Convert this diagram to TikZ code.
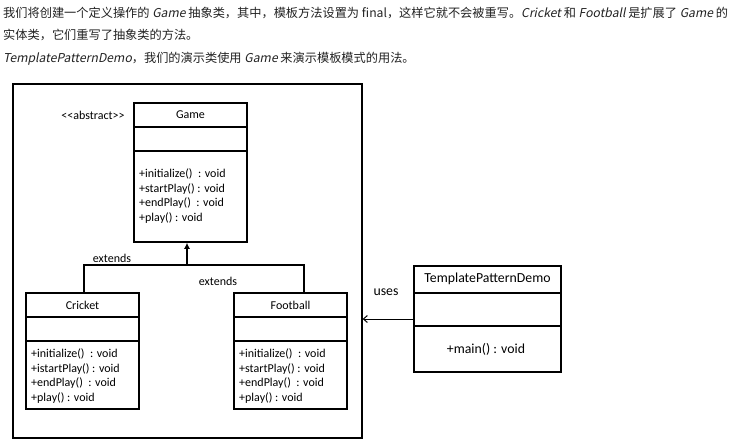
\documentclass[tikz,border=0pt]{standalone}
\usepackage{fontspec}
\usetikzlibrary{arrows.meta}
\newfontfamily\hdr{Noto Sans CJK SC}[AutoFakeSlant=0.2]
\newfontfamily\uml{Carlito}
\definecolor{txt}{HTML}{222222}
\tikzset{
  x=1pt, y=-1pt,
  classbox/.style={draw, line width=1.5pt, rectangle, inner sep=0pt},
  divider/.style={line width=1.3pt},
  cname/.style={font=\uml\fontsize{12}{14}\selectfont, inner sep=0pt},
  bigname/.style={font=\uml\fontsize{13.8}{16}\selectfont, inner sep=0pt},
  members/.style={font=\uml\fontsize{12}{14.7}\selectfont, align=left, inner sep=0pt, anchor=west},
  note/.style={font=\uml\fontsize{12}{14}\selectfont, inner sep=0pt},
  para/.style={font=\hdr\fontsize{12.2}{14}\selectfont, text=txt, anchor=west, inner sep=0pt},
  gen/.style={line width=1.5pt, -{Latex[length=6pt,width=6pt]}},
  dep/.style={line width=1pt, -{Straight Barb[length=4pt,width=7pt]}},
}
\begin{document}
\begin{tikzpicture}
\useasboundingbox (0,0) rectangle (735,444);

% introductory paragraph
\node[para] (p1) at (3,13) {我们将创建一个定义操作的 \textit{Game} 抽象类，其中，模板方法设置为 final，这样它就不会被重写。\textit{Cricket} 和 \textit{Football} 是扩展了 \textit{Game} 的};
\node[para] (p2) at (3,35) {实体类，它们重写了抽象类的方法。};
\node[para] (p3) at (3,59) {\textit{TemplatePatternDemo}，我们的演示类使用 \textit{Game} 来演示模板模式的用法。};

% enclosing frame
\node[draw, line width=1.3pt, minimum width=349pt, minimum height=354pt, inner sep=0pt] (frame) at (187.5,261) {};

% abstract class Game
\node[classbox, minimum width=113pt, minimum height=139pt] (game) at (190.5,172.5) {};
\draw[divider] (game.west |- 0,127) -- (game.east |- 0,127);
\draw[divider] (game.west |- 0,151) -- (game.east |- 0,151);
\node[cname] (gameT) at (190.5,115) {Game};
\node[note] (abs) at (93,115) {<<abstract>>};
\node[members] (gameM) at (139,196) {+initialize()\ \ : void\\+startPlay()\ : void\\+endPlay()\ \ : void\\+play()\ : void};

% class Cricket
\node[classbox, minimum width=113pt, minimum height=116pt] (cricket) at (82.5,351) {};
\draw[divider] (cricket.west |- 0,317) -- (cricket.east |- 0,317);
\draw[divider] (cricket.west |- 0,341) -- (cricket.east |- 0,341);
\node[cname] (cricketT) at (82.5,305) {Cricket};
\node[members] (cricketM) at (31,376) {+initialize()\ \ : void\\+istartPlay()\ : void\\+endPlay()\ \ : void\\+play()\ : void};

% class Football
\node[classbox, minimum width=113pt, minimum height=116pt] (football) at (290.5,351) {};
\draw[divider] (football.west |- 0,317) -- (football.east |- 0,317);
\draw[divider] (football.west |- 0,341) -- (football.east |- 0,341);
\node[cname] (footballT) at (290.5,305) {Football};
\node[members] (footballM) at (239,376) {+initialize()\ \ : void\\+startPlay()\ : void\\+endPlay()\ \ : void\\+play()\ : void};

% class TemplatePatternDemo
\node[classbox, minimum width=147pt, minimum height=106pt] (demo) at (487.5,319) {};
\draw[divider] (demo.west |- 0,293) -- (demo.east |- 0,293);
\draw[divider] (demo.west |- 0,326) -- (demo.east |- 0,326);
\node[bigname] (demoT) at (487.5,279) {TemplatePatternDemo};
\node[bigname] (demoM) at (486,349) {+main() : void};

% inheritance connectors
\coordinate (join) at (187,265);
\draw[line width=1.5pt] ([xshift=1.5pt]cricket.north) |- (join) -| ([xshift=13.5pt]football.north);
\draw[gen] (join) -- (join |- game.south);
\node[note] (ext1) at (112,258) {extends};
\node[note] (ext2) at (218,281) {extends};

% dependency
\draw[dep] (demo.west) -- (demo.west -| frame.east);
\node[bigname] (uses) at (386,292) {uses};
\end{tikzpicture}
\end{document}
